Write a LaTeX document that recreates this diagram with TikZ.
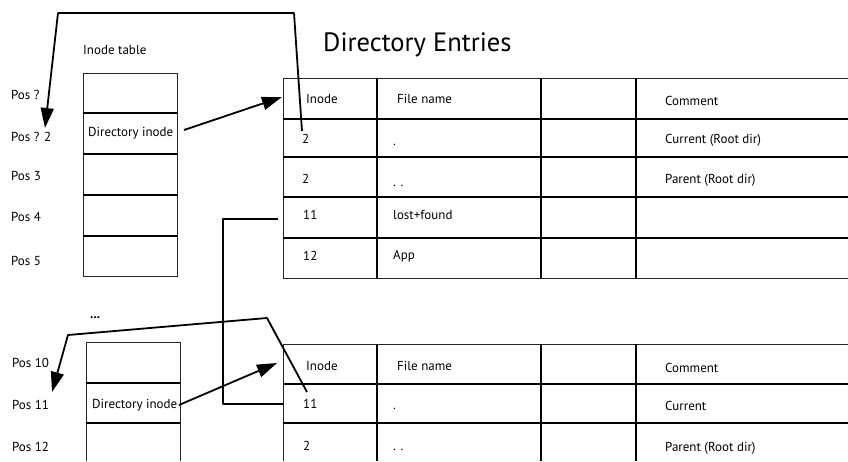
\documentclass[tikz,border=0pt]{standalone}
\usepackage{fontspec}
\setmainfont{PT Sans}
\usetikzlibrary{arrows.meta}
\begin{document}
\begin{tikzpicture}[x=1pt,y=-1pt,
  lbl/.style={font=\fontsize{13}{15}\selectfont, inner sep=0pt, anchor=west},
  outer/.style={draw=black!85, line width=0.8pt},
  inner/.style={draw=black, line width=1.8pt},
  link/.style={draw=black, line width=1.8pt},
  tip/.style={-{Triangle[length=20pt,width=13pt]}}
]
\useasboundingbox (0,0) rectangle (848,461);

% ---------- headings ----------
\node[lbl] (ith) at (83,50) {Inode table};
\node[font=\fontsize{26.5}{30}\selectfont, inner sep=0pt, anchor=west] (de) at (323,45) {Directory Entries};

% ---------- upper inode table ----------
\draw[outer] (83,73) rectangle (177,276);
\foreach \y in {113,154,195,236} \draw[inner] (83,\y) -- (177,\y);
\node[lbl] (dinode1) at (88,133) {Directory inode};
\coordinate (dinode1out) at (184,130);

\node[lbl] (p1) at (11,95) {Pos ?};
\node[lbl] (p2) at (11,137) {Pos ? 2};
\node[lbl] (p3) at (11,176) {Pos 3};
\node[lbl] (p4) at (11,217) {Pos 4};
\node[lbl] (p5) at (11,261) {Pos 5};

% ---------- upper directory table ----------
\draw[outer] (283,78) -- (849,78);
\draw[outer] (283,78) -- (283,278) -- (849,278);
\foreach \y in {119,157,197,238} \draw[inner] (283,\y) -- (849,\y);
\foreach \x in {377,541,636} \draw[inner] (\x,78) -- (\x,278);

\node[lbl] (h1) at (306,99) {Inode};
\node[lbl] (h2) at (397,99) {File name};
\node[lbl] (h3) at (665,101) {Comment};
\node[lbl] (r1a) at (302,139) {2};
\node[lbl] (r1b) at (393,145) {.};
\node[lbl] (r1c) at (665,140) {Current (Root dir)};
\node[lbl] (r2a) at (302,179) {2};
\node[lbl] (r2b) at (393,186) {. .};
\node[lbl] (r2c) at (665,180) {Parent (Root dir)};
\node[lbl] (r3a) at (303,215) {11};
\node[lbl] (r3b) at (393,215) {lost+found};
\node[lbl] (r4a) at (303,256) {12};
\node[lbl] (r4b) at (393,256) {App};
\coordinate (tbl1in) at (282,97);

% ---------- lower inode table ----------
\node[lbl, anchor=base west] (dots) at (90,318.5) {\textbf{...}};
\draw[outer] (86,461) -- (86,342) -- (180,342) -- (180,461);
\foreach \y in {383,423} \draw[inner] (86,\y) -- (180,\y);
\node[lbl] (dinode2) at (92,405) {Directory inode};
\coordinate (dinode2out) at (179,405);

\node[lbl] (p10) at (12,363) {Pos 10};
\node[lbl] (p11) at (12,405) {Pos 11};
\node[lbl] (p12) at (12,447) {Pos 12};

% ---------- lower directory table ----------
\draw[outer] (283,461) -- (283,344) -- (849,344);
\foreach \y in {384,423} \draw[inner] (283,\y) -- (849,\y);
\foreach \x in {377,541,636} \draw[inner] (\x,344) -- (\x,461);

\node[lbl] (g1) at (306,366) {Inode};
\node[lbl] (g2) at (397,366) {File name};
\node[lbl] (g3) at (665,368) {Comment};
\node[lbl] (s1a) at (303,404) {11};
\node[lbl] (s1b) at (393,409) {.};
\node[lbl] (s1c) at (665,406) {Current};
\node[lbl] (s2a) at (303,446) {2};
\node[lbl] (s2b) at (393,450) {. .};
\node[lbl] (s2c) at (665,448) {Parent (Root dir)};
\coordinate (tbl2in) at (277,363);

% ---------- connectors ----------
\coordinate (loop1start) at (302,131);
\coordinate (loop1a) at (294,13);
\coordinate (loop1b) at (58,13);
\coordinate (loop1end) at (45,128);
\draw[link, tip, line join=round] (loop1start) -- (loop1a) -- (loop1b) -- (loop1end);

\draw[link, tip] (dinode1out) -- (tbl1in);

\coordinate (lfout) at (278,219);
\coordinate (lfa) at (223,219);
\coordinate (lfb) at (223,404);
\coordinate (lfin) at (283,404);
\draw[link, line join=round] (lfout) -- (lfa) -- (lfb) -- (lfin);

\coordinate (loop2start) at (307,392);
\coordinate (loop2a) at (267,318);
\coordinate (loop2b) at (68,335);
\coordinate (loop2end) at (52,392);
\draw[link, tip, line join=round] (loop2start) -- (loop2a) -- (loop2b) -- (loop2end);

\draw[link, tip] (dinode2out) -- (tbl2in);
\end{tikzpicture}
\end{document}
